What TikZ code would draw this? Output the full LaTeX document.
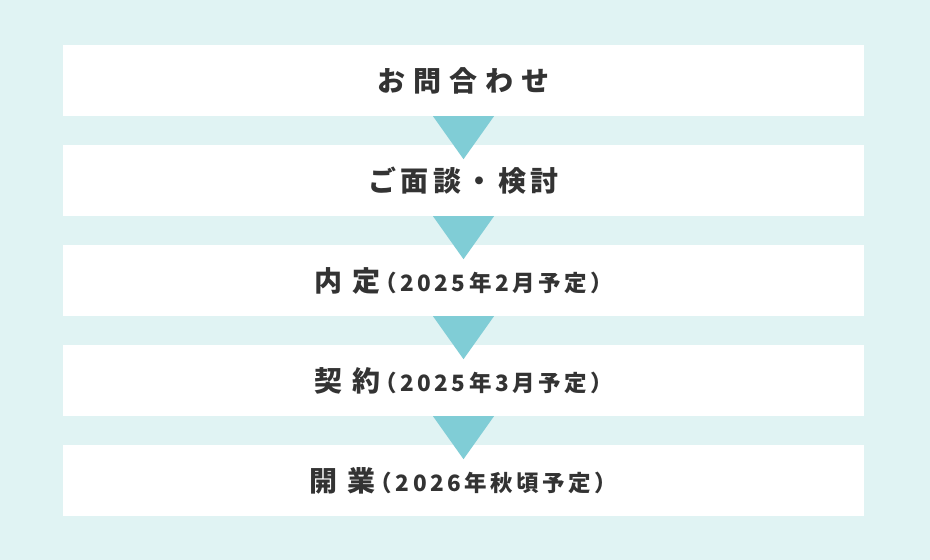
\documentclass[tikz,border=0pt]{standalone}
\usepackage{fontspec}
\usetikzlibrary{calc}
\newfontfamily\jp{Noto Sans CJK JP}
\definecolor{bg}{HTML}{E0F3F3}
\definecolor{tri}{HTML}{80CDD6}
\definecolor{ink}{HTML}{333333}
\newlength\lsp
\def\spaced#1#2{\setlength\lsp{#1}\spacedi#2\relax}
\def\spacedi#1{#1\spacedii}
\def\spacedii#1{\ifx#1\relax\else\hspace{\lsp}#1\expandafter\spacedii\fi}
\newcommand\mainf{\jp\bfseries\fontsize{28}{32}\selectfont}
\newcommand\subf{\jp\bfseries\fontsize{22.5}{26}\selectfont}
\tikzset{
  stepbox/.style={fill=white, minimum width=801pt, minimum height=71pt, inner sep=0pt, text=ink},
  arrowtri/.style={fill=tri},
}
\begin{document}
\begin{tikzpicture}[x=1pt,y=-1pt]
\fill[bg] (0,0) rectangle (930,560);
\useasboundingbox (0,0) rectangle (930,560);
\node[stepbox] (b1) at (463.5,80.5) {\mainf\spaced{8pt}{お問合わせ}};
\node[stepbox] (b2) at (463.5,180.5) {\mainf\spaced{4.5pt}{ご面談・検討}};
\node[stepbox] (b3) at (463.5,280.5) {{\mainf\spaced{10pt}{内定}}\hspace{-6pt}{\subf\spaced{3.5pt}{（2025年2月予定）}}};
\node[stepbox] (b4) at (463.5,380.5) {{\mainf\spaced{10pt}{契約}}\hspace{-6pt}{\subf\spaced{3.5pt}{（2025年3月予定）}}};
\node[stepbox] (b5) at (463.5,480.5) {{\mainf\spaced{10pt}{開業}}\hspace{-6pt}{\subf\spaced{3.5pt}{（2026年秋頃予定）}}};
\foreach \a in {1,2,3,4}{
  \fill[arrowtri] ($(b\a.south)+(-30.5,0)$) -- ($(b\a.south)+(30.5,0)$) -- ($(b\a.south)+(0,43)$) -- cycle;
}
\end{tikzpicture}
\end{document}
